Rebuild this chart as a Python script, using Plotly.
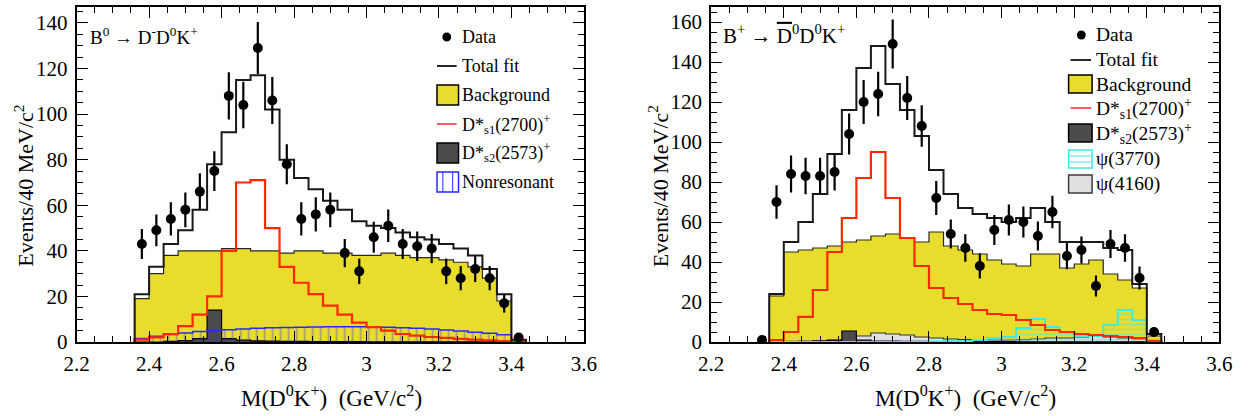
import plotly.graph_objects as go

# ---------------- data ----------------
BIN_W = 0.04
bin_lo = [2.36, 2.40, 2.44, 2.48, 2.52, 2.56, 2.60, 2.64, 2.68, 2.72, 2.76, 2.80, 2.84, 2.88,
          2.92, 2.96, 3.00, 3.04, 3.08, 3.12, 3.16, 3.20, 3.24, 3.28, 3.32, 3.36, 3.40]

# Left panel: B0 -> D- D0 K+
data_x_L = [2.38, 2.42, 2.46, 2.50, 2.54, 2.58, 2.62, 2.66, 2.70, 2.74, 2.78, 2.82, 2.86, 2.90,
            2.94, 2.98, 3.02, 3.06, 3.10, 3.14, 3.18, 3.22, 3.26, 3.30, 3.34, 3.38, 3.42]
data_y_L = [43, 49, 54, 58, 66, 75, 108, 104, 129, 106, 78, 54, 56, 58,
            39, 31, 46, 51, 43, 42, 41, 31, 28, 32, 28, 17, 2]
data_e_L = [6.6, 7.0, 7.3, 7.6, 8.1, 8.7, 10.4, 10.2, 11.4, 10.3, 8.8, 7.3, 7.5, 7.6,
            6.2, 5.6, 6.8, 7.1, 6.6, 6.5, 6.4, 5.6, 5.3, 5.7, 5.3, 4.1, 1.4]
total_L = [21, 33, 43, 49, 58, 78, 92, 115, 117, 102, 80, 72, 67, 62,
           58, 53, 51, 50, 48, 46, 45, 43, 41, 38, 32, 21, 1]
bkg_L = [19, 30, 38, 40, 40, 40, 41, 41, 40, 40, 39, 40, 40, 39,
         39, 38, 38, 39, 38, 37, 37, 36, 35, 33, 28, 18, 1]
ds1_L = [1, 2, 3.5, 7, 12, 20, 40, 70, 71, 50, 33, 26, 21, 16,
         12, 8.5, 6.5, 5, 3.5, 2.8, 2.2, 1.8, 1.4, 1.0, 0.7, 0.4, 0]
ds2_L = [0, 0, 0.3, 0.6, 1.5, 14, 1.5, 0.8, 0.5, 0.4, 0.3, 0.3, 0.2, 0.2,
         0.2, 0.2, 0.1, 0.1, 0.1, 0.1, 0.1, 0.1, 0.1, 0.1, 0.1, 0.1, 0]
nonres_L = [1.5, 2.5, 3.3, 4.0, 4.6, 5.0, 5.4, 5.7, 6.0, 6.2, 6.4, 6.5, 6.6, 6.7,
            6.7, 6.7, 6.6, 6.5, 6.3, 6.0, 5.7, 5.3, 4.8, 4.3, 3.8, 3.2, 0]

# Right panel: B+ -> D0bar D0 K+
data_x_R = [2.34, 2.38, 2.42, 2.46, 2.50, 2.54, 2.58, 2.62, 2.66, 2.70, 2.74, 2.78, 2.82, 2.86,
            2.90, 2.94, 2.98, 3.02, 3.06, 3.10, 3.14, 3.18, 3.22, 3.26, 3.30, 3.34, 3.38, 3.42]
data_y_R = [1, 70, 84, 83, 83, 85, 104, 120, 124, 149, 122, 108, 72, 54,
            47, 38, 56, 61, 60, 53, 65, 43, 46, 28, 49, 47, 32, 5]
data_e_R = [1.0, 8.4, 9.2, 9.1, 9.1, 9.2, 10.2, 11.0, 11.1, 12.2, 11.0, 10.4, 8.5, 7.3,
            6.9, 6.2, 7.5, 7.8, 7.7, 7.3, 8.1, 6.6, 6.8, 5.3, 7.0, 6.9, 5.7, 2.2]
total_R = [24, 50, 60, 74, 94, 116, 137, 148, 129, 116, 103, 86, 74, 67,
           64, 62, 60, 62, 67, 60, 50, 50, 50, 47, 46, 29, 4]
bkg_R = [23, 45, 46, 47, 48, 50, 51, 53, 54, 52, 50, 55, 48, 46,
         44, 41, 39, 38, 44, 44, 37, 39, 41, 34, 31, 27, 3]
ds1_R = [1, 5, 12.6, 26, 45, 62, 82, 95, 72, 52, 38, 27, 22, 19,
         16, 14, 13.5, 11, 8.5, 6, 5, 4, 3.5, 3, 2.5, 2, 0.5]
ds2_R = [0, 0.1, 0.2, 0.3, 0.8, 5.5, 1.0, 0.5, 0.4, 0.3, 0.3, 0.2, 0.2, 0.2,
         0.2, 0.2, 0.2, 0.1, 0.1, 0.1, 0.1, 0.1, 0.1, 0.1, 0.1, 0.1, 0]
psi3770_R = [0, 0, 0, 0, 0, 0, 0, 0, 0, 0.1, 0.2, 0.3, 0.4, 0.5,
             1, 2, 2.5, 7, 11.5, 7.5, 5, 3, 3, 8.5, 16, 11, 1]
psi4160_R = [0, 0.3, 0.5, 0.7, 1, 1.5, 3, 4.5, 4, 3.5, 2.5, 2, 1.5, 1.2,
             1, 1, 1, 1.2, 1.5, 2, 2, 2.5, 3, 2.5, 2, 1.5, 0]

x_ticks = [2.2, 2.4, 2.6, 2.8, 3.0, 3.2, 3.4, 3.6]
x_ticktext = ["2.2", "2.4", "2.6", "2.8", "3", "3.2", "3.4", "3.6"]

# ---------------- style ----------------
W, H = 1251, 416
MT, MB = 7, 74
FONT = "Times New Roman, Liberation Serif, DejaVu Serif, serif"
YELLOW = "rgb(232,220,45)"
RED = "rgb(255,40,0)"
BLUE = "rgb(40,40,255)"
CYAN = "rgb(60,235,225)"
DGREY = "rgb(75,75,75)"
LGREY = "rgb(222,224,226)"


def px(x):
    return x / W


def py(y):
    return (H - MB - y) / (H - MB - MT)


def step(vals):
    hi = bin_lo[-1] + BIN_W
    xs = [bin_lo[0]] + bin_lo + [hi, hi]
    ys = [0] + list(vals) + [vals[-1], 0]
    return xs, ys


fig = go.Figure()


def add_hist(vals, ax, line_color, line_width=1.5, fill=None, pattern=None):
    xs, ys = step(vals)
    kw = dict(x=xs, y=ys, mode="lines", line=dict(color=line_color, width=line_width, shape="hv"),
              xaxis=ax[0], yaxis=ax[1], showlegend=False, hoverinfo="skip")
    if fill is not None or pattern is not None:
        kw["fill"] = "tozeroy"
        kw["fillcolor"] = fill if fill is not None else "rgba(0,0,0,0)"
    if pattern is not None:
        kw["fillpattern"] = pattern
    fig.add_trace(go.Scatter(**kw))


L = ("x", "y")
R = ("x2", "y2")

# left panel
add_hist(bkg_L, L, "rgb(40,40,40)", 1.2, fill=YELLOW)
add_hist(ds2_L, L, "black", 1.2, fill=DGREY)
add_hist(nonres_L, L, BLUE, 1.5,
         pattern=dict(shape="|", fgcolor=BLUE, bgcolor="rgba(0,0,0,0)", size=8, solidity=0.15))
add_hist(ds1_L, L, RED, 2.2)
add_hist(total_L, L, "rgb(25,25,25)", 2.0)
fig.add_trace(go.Scatter(x=data_x_L, y=data_y_L, mode="markers",
                         marker=dict(color="black", size=10),
                         error_y=dict(type="data", array=data_e_L, color="black", thickness=2.2, width=0),
                         xaxis="x", yaxis="y", showlegend=False))

# right panel
add_hist(bkg_R, R, "rgb(40,40,40)", 1.2, fill=YELLOW)
add_hist(psi4160_R, R, "rgb(50,50,50)", 1.2, fill=LGREY)
add_hist(ds2_R, R, "black", 1.2, fill=DGREY)
add_hist(psi3770_R, R, CYAN, 1.8,
         pattern=dict(shape="-", fgcolor=CYAN, bgcolor="rgba(0,0,0,0)", size=5, solidity=0.3))
add_hist(ds1_R, R, RED, 2.2)
add_hist(total_R, R, "rgb(25,25,25)", 2.0)
fig.add_trace(go.Scatter(x=data_x_R, y=data_y_R, mode="markers",
                         marker=dict(color="black", size=10),
                         error_y=dict(type="data", array=data_e_R, color="black", thickness=2.2, width=0),
                         xaxis="x2", yaxis="y2", showlegend=False))

axis_common = dict(
    showline=True, linecolor="black", linewidth=2, mirror="allticks",
    ticks="inside", ticklen=11, tickwidth=1.3, tickcolor="black",
    showgrid=False, zeroline=False,
    tickfont=dict(family=FONT, size=21, color="black"),
)
xcommon = dict(axis_common, range=[2.2, 3.6], tickvals=x_ticks, ticktext=x_ticktext,
               minor=dict(ticks="inside", dtick=0.05, ticklen=6, tickcolor="black", tickwidth=1.1),
               ticklabelstandoff=2)
ycommon = dict(axis_common, dtick=20,
               minor=dict(ticks="inside", dtick=5, ticklen=6, tickcolor="black", tickwidth=1.1),
               ticklabelstandoff=3)

fig.update_layout(
    width=W, height=H,
    margin=dict(l=0, r=0, t=MT, b=MB, pad=0),
    paper_bgcolor="white", plot_bgcolor="white",
    font=dict(family=FONT, color="black"),
    xaxis=dict(xcommon, domain=[px(65), px(583)], anchor="y"),
    yaxis=dict(ycommon, range=[0, 147], domain=[0, 1], anchor="x"),
    xaxis2=dict(xcommon, domain=[px(713), px(1232)], anchor="y2"),
    yaxis2=dict(ycommon, range=[0, 167.5], domain=[0, 1], anchor="x2"),
)

ann = []
shapes = []


def text(x, y, s, size=17, xanchor="left", angle=0):
    ann.append(dict(x=px(x), y=py(y), xref="paper", yref="paper", text=s, showarrow=False,
                    xanchor=xanchor, yanchor="middle", textangle=angle, borderpad=0,
                    font=dict(family=FONT, size=size, color="black")))


# axis titles
for off in (0, 648):
    text(325 + off, 396, "M(D<sup>0</sup>K<sup>+</sup>)  (GeV/c<sup>2</sup>)", 23, "center")
    text(11 + off, 186, "Events/40 MeV/c<sup>2</sup>", 22, "center", -90)

# panel titles
text(78, 36, "B<sup>0</sup> → D<sup>-</sup>D<sup>0</sup>K<sup>+</sup>", 19)
text(724, 35, "B<sup>+</sup> → <span style='text-decoration:overline'>D</span><sup>0</sup>D<sup>0</sup>K<sup>+</sup>", 21)


def leg_marker(x, y):
    shapes.append(dict(type="circle", xref="paper", yref="paper",
                       x0=px(x - 4.5), x1=px(x + 4.5), y0=py(y + 4.5), y1=py(y - 4.5),
                       fillcolor="black", line=dict(color="black", width=0)))


def leg_line(x0, x1, y, color, width=2):
    shapes.append(dict(type="line", xref="paper", yref="paper",
                       x0=px(x0), x1=px(x1), y0=py(y), y1=py(y), line=dict(color=color, width=width)))


def leg_box(x0, x1, y0, y1, fill, edge, width=1.5):
    shapes.append(dict(type="rect", xref="paper", yref="paper",
                       x0=px(x0), x1=px(x1), y0=py(y1), y1=py(y0),
                       fillcolor=fill, line=dict(color=edge, width=width)))


# left legend
lx0, lx1, ltx = 433, 455, 458
LFS = 18
rows_L = [37, 66, 95, 124, 153, 182]
leg_marker(443, rows_L[0]); text(ltx, rows_L[0], "Data", LFS)
leg_line(433, 453, rows_L[1], "rgb(40,40,40)"); text(ltx, rows_L[1], "Total fit", LFS)
leg_box(lx0, lx1, rows_L[2] - 10, rows_L[2] + 10, YELLOW, "black"); text(ltx, rows_L[2], "Background", LFS)
leg_line(433, 453, rows_L[3], "rgb(255,90,90)"); text(ltx, rows_L[3], "D*<sub>s1</sub>(2700)<sup>+</sup>", LFS)
leg_box(lx0, lx1, rows_L[4] - 10, rows_L[4] + 10, DGREY, "black"); text(ltx, rows_L[4], "D*<sub>s2</sub>(2573)<sup>+</sup>", LFS)
leg_box(lx0, lx1, rows_L[5] - 10, rows_L[5] + 10, "white", BLUE)
for xv in (439, 449):
    shapes.append(dict(type="line", xref="paper", yref="paper", x0=px(xv), x1=px(xv),
                       y0=py(rows_L[5] - 10), y1=py(rows_L[5] + 10), line=dict(color=BLUE, width=1)))
text(ltx, rows_L[5], "Nonresonant", LFS)

# right legend
rx0, rx1, rtx = 1078, 1102, 1105
RFS = 19.5
rows_R = [35, 60, 84, 108, 133, 159, 184]
leg_marker(1091, rows_R[0]); text(rtx, rows_R[0], "Data", RFS)
leg_line(1080, 1101, rows_R[1], "rgb(40,40,40)"); text(rtx, rows_R[1], "Total fit", RFS)
leg_box(rx0, rx1, rows_R[2] - 9, rows_R[2] + 9, YELLOW, "black"); text(rtx, rows_R[2], "Background", RFS)
leg_line(1080, 1101, rows_R[3], "rgb(255,90,90)"); text(rtx, rows_R[3], "D*<sub>s1</sub>(2700)<sup>+</sup>", RFS)
leg_box(rx0, rx1, rows_R[4] - 9, rows_R[4] + 9, DGREY, "black"); text(rtx, rows_R[4], "D*<sub>s2</sub>(2573)<sup>+</sup>", RFS)
leg_box(rx0, rx1, rows_R[5] - 9, rows_R[5] + 9, "white", CYAN)
for yv in (rows_R[5] - 3, rows_R[5] + 3):
    shapes.append(dict(type="line", xref="paper", yref="paper", x0=px(rx0), x1=px(rx1),
                       y0=py(yv), y1=py(yv), line=dict(color=CYAN, width=1)))
text(rtx, rows_R[5], "ψ(3770)", RFS)
leg_box(rx0, rx1, rows_R[6] - 9, rows_R[6] + 9, LGREY, "rgb(60,60,60)"); text(rtx, rows_R[6], "ψ(4160)", RFS)

fig.update_layout(annotations=ann, shapes=shapes)
fig.write_html("out.html")
